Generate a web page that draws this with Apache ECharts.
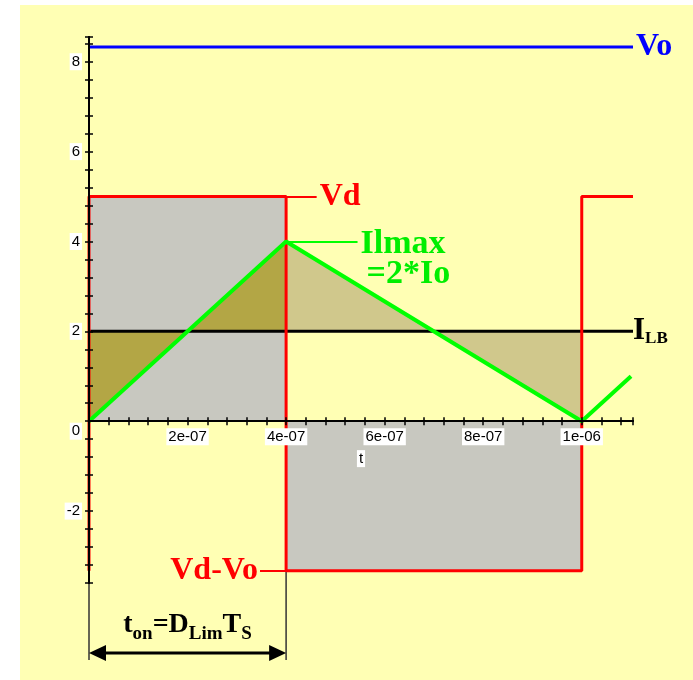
<!DOCTYPE html>
<html>
<head>
<meta charset="utf-8">
<script src="https://cdn.jsdelivr.net/npm/echarts@6/dist/echarts.min.js"></script>
<style>
html, body { margin: 0; padding: 0; background: #fff; }
#wrap { position: relative; width: 693px; height: 680px; }
#bg { position: absolute; left: 20px; top: 5px; right: 0; bottom: 0; background: #ffffb4; }
#chart { position: absolute; left: 0; top: 0; width: 693px; height: 680px; }
</style>
</head>
<body>
<div id="wrap"><div id="bg"></div><div id="chart"></div></div>
<script>
// time points (s) and levels
var tOn = 4e-7;
var tS = 1e-6;
var tMax = 1.104e-6;
var Vo = 8.33, Vd = 5, VdVo = -3.33, ILB = 2;
var yMin = -3.6, yMax = 8.55;

// voltage waveform (red) and the grey area under it
var vLine = [[0, VdVo], [0, Vd], [tOn, Vd], [tOn, VdVo], [tS, VdVo], [tS, Vd], [tMax, Vd]];
var vArea = [[0, Vd], [tOn, Vd], [tOn, VdVo], [tS, VdVo]];
// inductor current (green)
var iL = [[0, 0], [tOn, 4], [tS, 0], [1.1e-6, 1.0]];
var iRise = [[0, 0], [tOn, 4]];
var iFall = [[tOn, 4], [tS, 0]];
var voLine = [[0, Vo], [tMax, Vo]];
var ilbLine = [[0, ILB], [tMax, ILB]];

// ends of the little leader lines to the labels
var vdTip = 4.62e-7, vdvoTip = 3.47e-7, ilTip = 5.45e-7;

var serif = 'Liberation Serif';
var sans = 'Liberation Sans';

var grid = { left: 89, right: 60, top: 37, bottom: 97 };
// echarts 6 keeps the x labels at the grid's bottom edge even when the line is on zero,
// so pull them back up by the distance between y = yMin and y = 0
var plotH = 680 - grid.top - grid.bottom;
var zeroLift = (0 - yMin) / (yMax - yMin) * plotH;

function xLabel(v) {
    if (v <= 0) return '';
    var k = v / 2e-7;
    if (Math.abs(k - Math.round(k)) > 1e-6) return '';
    return '{w|' + v.toExponential(0).replace(/e([+-])(\d)$/, 'e$10$2') + '}';
}
function yLabel(v) {
    if (Math.abs(v / 2 - Math.round(v / 2)) > 1e-6) return '';
    if (Math.abs(v) < 1e-9) return '{e| }\n{w|0}';
    return '{w|' + Math.round(v) + '}';
}
var boxed = { backgroundColor: '#fff', padding: [1, 2], fontSize: 15, fontFamily: sans, color: '#000' };

function xAxisOf(i, pos) {
    return {
        type: 'value', min: 0, max: tMax, interval: 4e-8, position: pos,
        splitLine: { show: false },
        axisLine: { onZero: true, onZeroAxisIndex: i, lineStyle: { color: '#000', width: 2 } },
        axisTick: { length: 4, lineStyle: { color: '#000', width: 1.5 } },
        axisLabel: { show: false },
        z: 10
    };
}
function yAxisOf(i, pos) {
    return {
        type: 'value', min: yMin, max: yMax, interval: 0.4, position: pos,
        splitLine: { show: false },
        axisLine: { onZero: true, onZeroAxisIndex: i, lineStyle: { color: '#000', width: 2 } },
        axisTick: { length: 4, lineStyle: { color: '#000', width: 1.5 } },
        axisLabel: { show: false },
        z: 10
    };
}

var x0Axis = xAxisOf(0, 'bottom');
x0Axis.name = 't';
x0Axis.nameLocation = 'middle';
x0Axis.nameGap = 24 - zeroLift;
x0Axis.nameTextStyle = boxed;
x0Axis.axisLabel = { show: true, formatter: xLabel, margin: 7 - zeroLift, rich: { w: boxed } };
var y0Axis = yAxisOf(0, 'left');
y0Axis.axisLabel = { show: true, formatter: yLabel, margin: 7, rich: { w: boxed, e: { lineHeight: 20, fontSize: 6 } } };

var option = {
    animation: false,
    grid: grid,
    xAxis: [x0Axis, xAxisOf(1, 'top')],
    yAxis: [y0Axis, yAxisOf(1, 'right')],
    series: [
        { type: 'line', data: vArea, symbol: 'none', lineStyle: { opacity: 0 },
          areaStyle: { color: '#c8c8c0', opacity: 1, origin: 0 }, z: 1 },
        { type: 'line', data: iRise, symbol: 'none', lineStyle: { opacity: 0 },
          areaStyle: { color: '#b3a645', opacity: 1, origin: ILB }, z: 2 },
        { type: 'line', data: iFall, symbol: 'none', lineStyle: { opacity: 0 },
          areaStyle: { color: '#d0c88c', opacity: 1, origin: ILB }, z: 2 },
        { type: 'line', data: ilbLine, symbol: 'none', lineStyle: { color: '#000', width: 3 }, z: 3,
          endLabel: { show: true, distance: 0, formatter: '{a|I}{b|LB}',
              rich: {
                  a: { fontFamily: serif, fontWeight: 'bold', fontSize: 31, color: '#000', verticalAlign: 'bottom' },
                  b: { fontFamily: serif, fontWeight: 'bold', fontSize: 17, color: '#000', verticalAlign: 'bottom' }
              } } },
        { type: 'line', data: voLine, symbol: 'none', lineStyle: { color: '#0000ff', width: 3 }, z: 3,
          endLabel: { show: true, distance: 3, formatter: 'Vo', color: '#0000ff',
              fontFamily: serif, fontWeight: 'bold', fontSize: 32 } },
        { type: 'line', data: vLine, symbol: 'none', lineStyle: { color: '#ff0000', width: 3 }, z: 4,
          markLine: { silent: true, symbol: ['none', 'none'], animation: false,
              data: [
                  [{ coord: [tOn, Vd], lineStyle: { color: '#ff0000', width: 2, type: 'solid' },
                     label: { show: true, position: 'end', distance: 3, formatter: 'Vd', color: '#ff0000',
                         fontFamily: serif, fontWeight: 'bold', fontSize: 32 } },
                   { coord: [vdTip, Vd] }],
                  [{ coord: [vdvoTip, VdVo], lineStyle: { color: '#ff0000', width: 2, type: 'solid' },
                     label: { show: true, position: 'start', distance: 2, formatter: 'Vd-Vo', color: '#ff0000',
                         fontFamily: serif, fontWeight: 'bold', fontSize: 32 } },
                   { coord: [tOn, VdVo] }]
              ] } },
        { type: 'line', data: iL, symbol: 'none', lineStyle: { color: '#00ff00', width: 4 }, z: 5,
          markLine: { silent: true, symbol: ['none', 'none'], animation: false,
              data: [
                  [{ coord: [tOn, 4], lineStyle: { color: '#00ff00', width: 2, type: 'solid' },
                     label: { show: true, position: 'end', distance: 3, formatter: '{a|Ilmax}\n{b|=2*Io}',
                         padding: [36, 0, 0, 0],
                         rich: {
                             a: { fontFamily: serif, fontWeight: 'bold', fontSize: 34, lineHeight: 30, color: '#00ee00' },
                             b: { fontFamily: serif, fontWeight: 'bold', fontSize: 34, lineHeight: 30, color: '#00ee00', padding: [0, 0, 0, 6] }
                         } } },
                   { coord: [ilTip, 4] }]
              ] } }
    ]
};

var chart = echarts.init(document.getElementById('chart'));
chart.setOption(option);

// t_on dimension arrow below the plot
var pA = chart.convertToPixel({ gridIndex: 0 }, [0, yMin]);
var pB = chart.convertToPixel({ gridIndex: 0 }, [tOn, VdVo]);
var x0 = pA[0], x1 = pB[0], yArrow = 653, yEnd = 660;
chart.setOption({
    graphic: [
        { type: 'line', shape: { x1: x0, y1: pA[1], x2: x0, y2: yEnd }, style: { stroke: '#333', lineWidth: 1.5 } },
        { type: 'line', shape: { x1: x1, y1: pB[1], x2: x1, y2: yEnd }, style: { stroke: '#333', lineWidth: 1.5 } },
        { type: 'line', shape: { x1: x0 + 8, y1: yArrow, x2: x1 - 8, y2: yArrow }, style: { stroke: '#000', lineWidth: 3 } },
        { type: 'polygon', shape: { points: [[x0, yArrow], [x0 + 17, yArrow - 8], [x0 + 17, yArrow + 8]] }, style: { fill: '#000' } },
        { type: 'polygon', shape: { points: [[x1, yArrow], [x1 - 17, yArrow - 8], [x1 - 17, yArrow + 8]] }, style: { fill: '#000' } },
        { type: 'text', x: (x0 + x1) / 2, y: 644,
          style: { text: '{m|t}{s|on}{m|=D}{s|Lim}{m|T}{s|S}', align: 'center', verticalAlign: 'bottom',
              rich: {
                  m: { fontFamily: serif, fontWeight: 'bold', fontSize: 28, fill: '#000', verticalAlign: 'bottom', padding: [0, 0, 5, 0] },
                  s: { fontFamily: serif, fontWeight: 'bold', fontSize: 19, fill: '#000', verticalAlign: 'bottom' }
              } } }
    ]
});
</script>
</body>
</html>
